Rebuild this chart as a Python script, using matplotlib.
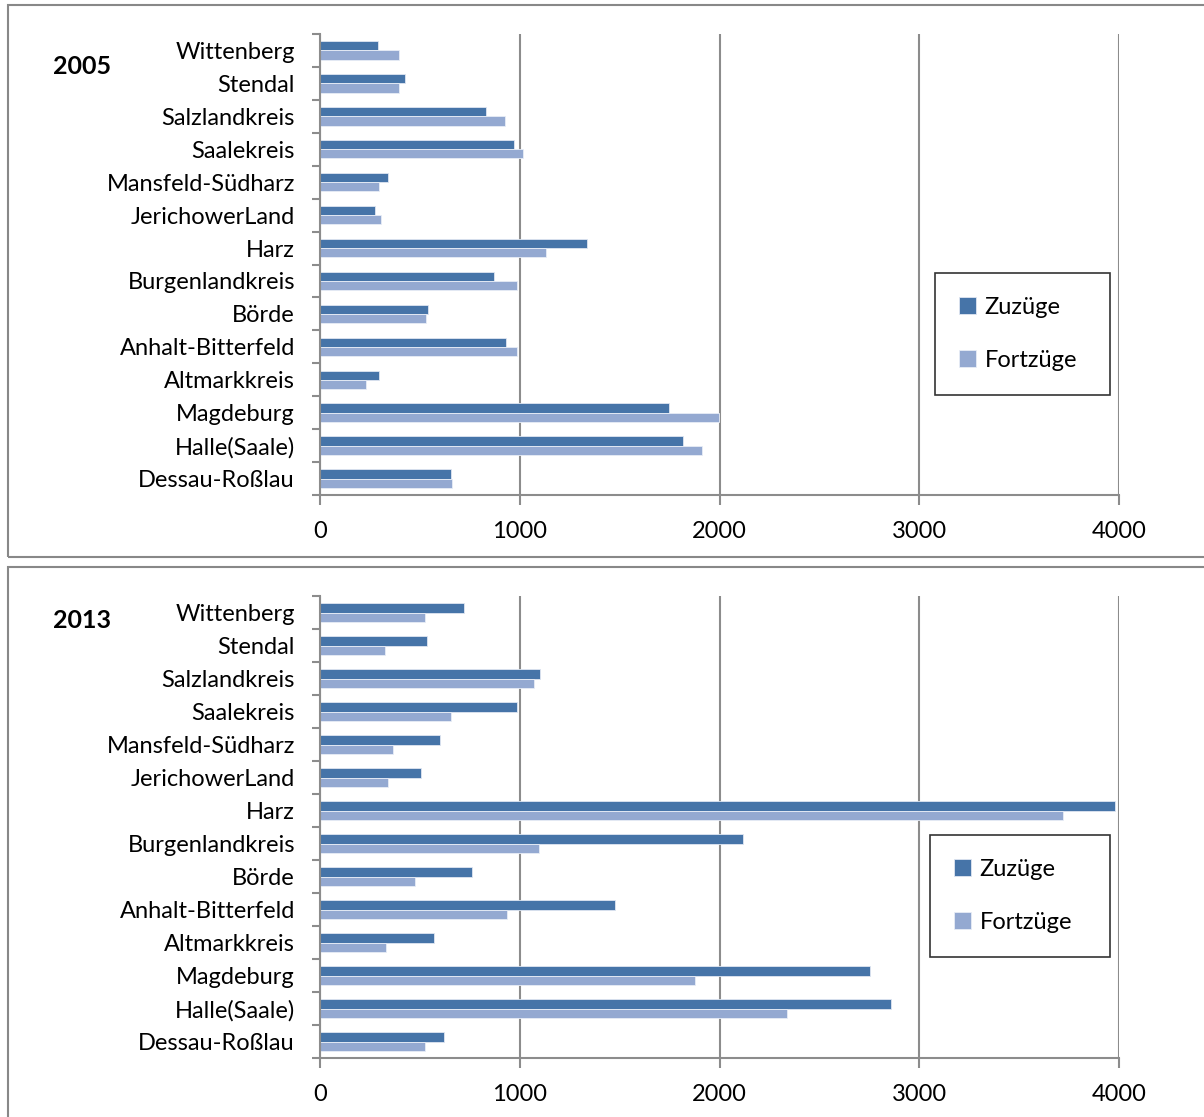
import matplotlib
matplotlib.use("Agg")
import matplotlib.pyplot as plt
from matplotlib.patches import Rectangle
import numpy as np

plt.rcParams['font.family'] = ['Lato', 'DejaVu Sans']

# categories listed bottom -> top as drawn
regions = ['Dessau-Roßlau', 'Halle(Saale)', 'Magdeburg', 'Altmarkkreis',
           'Anhalt-Bitterfeld', 'Börde', 'Burgenlandkreis', 'Harz',
           'JerichowerLand', 'Mansfeld-Südharz', 'Saalekreis',
           'Salzlandkreis', 'Stendal', 'Wittenberg']

zuzuege_2005 = [658, 1818, 1749, 294, 933, 541, 873, 1337, 275, 339, 973, 830, 427, 292]
fortzuege_2005 = [663, 1914, 1998, 230, 985, 531, 986, 1132, 307, 294, 1015, 926, 397, 394]

zuzuege_2013 = [621, 2859, 2754, 573, 1479, 760, 2120, 3981, 506, 603, 986, 1102, 534, 721]
fortzuege_2013 = [528, 2338, 1878, 329, 938, 474, 1098, 3721, 342, 364, 654, 1073, 324, 524]

x_ticks = [0, 1000, 2000, 3000, 4000]

C_ZU = '#4674A8'
C_FORT = '#94A9D1'
GRID = '#8c8c8c'
FS = 17

W, H = 1204, 1117
fig = plt.figure(figsize=(W / 100, H / 100), dpi=100)


def px_axes(left, top, right, bottom):
    return fig.add_axes([left / W, 1 - bottom / H, (right - left) / W, (bottom - top) / H])


def panel(ax, zu, fort, year, year_y, legend_box):
    y = np.arange(len(regions))
    h = 0.28
    ax.barh(y + h / 2, zu, height=h, color=C_ZU, edgecolor='#dfe6f1', linewidth=0.6,
            label='Zuzüge', zorder=3)
    ax.barh(y - h / 2, fort, height=h, color=C_FORT, edgecolor='#e8edf6', linewidth=0.6,
            label='Fortzüge', zorder=3)

    ax.set_xlim(0, 4000)
    ax.set_ylim(-0.5, len(regions) - 0.5)
    ax.set_xticks(x_ticks)
    ax.set_xticklabels([str(t) for t in x_ticks], fontsize=FS)
    ax.set_yticks(y)
    ax.set_yticklabels(regions, fontsize=FS)
    ax.set_yticks(np.arange(len(regions) + 1) - 0.5, minor=True)
    ax.tick_params(axis='y', which='major', length=0, pad=18)
    ax.tick_params(axis='y', which='minor', length=6, width=1.5, color=GRID, direction='out')
    ax.tick_params(axis='x', length=7, width=1.5, color=GRID, pad=12)

    ax.grid(axis='x', color=GRID, linewidth=1.5, zorder=0)
    for s in ['top', 'right']:
        ax.spines[s].set_visible(False)
    for s in ['left', 'bottom']:
        ax.spines[s].set_color(GRID)
        ax.spines[s].set_linewidth(1.5)
    ax.spines['left'].set_zorder(4)

    fig.text(53 / W, 1 - year_y / H, year, fontsize=18, fontweight='bold', va='center')

    lx0, ly0, lx1, ly1 = legend_box
    leg = ax.legend(loc='center left',
                    bbox_to_anchor=(lx0 / W, 1 - ly1 / H, (lx1 - lx0) / W, (ly1 - ly0) / H),
                    bbox_transform=fig.transFigure, mode='expand',
                    fontsize=FS, frameon=True, fancybox=False, handlelength=0.75,
                    handleheight=0.75, handletextpad=0.35, labelspacing=1.35,
                    borderpad=1.0, borderaxespad=0)
    leg.get_frame().set_edgecolor('black')
    leg.get_frame().set_linewidth(1.2)
    leg.set_zorder(10)


ax1 = px_axes(320, 34, 1119, 495)
panel(ax1, zuzuege_2005, fortzuege_2005, '2005', 67, (935, 280, 1110, 388))

ax2 = px_axes(320, 596, 1119, 1058)
panel(ax2, zuzuege_2013, fortzuege_2013, '2013', 620, (930, 842, 1110, 950))

# panel frames
for top, bottom in [(5, 557), (567, 1125)]:
    fig.patches.append(Rectangle((8 / W, 1 - bottom / H), 1.2, (bottom - top) / H,
                                 transform=fig.transFigure, fill=False,
                                 edgecolor='#888888', linewidth=1.5))

fig.savefig('out.png', dpi=100)
